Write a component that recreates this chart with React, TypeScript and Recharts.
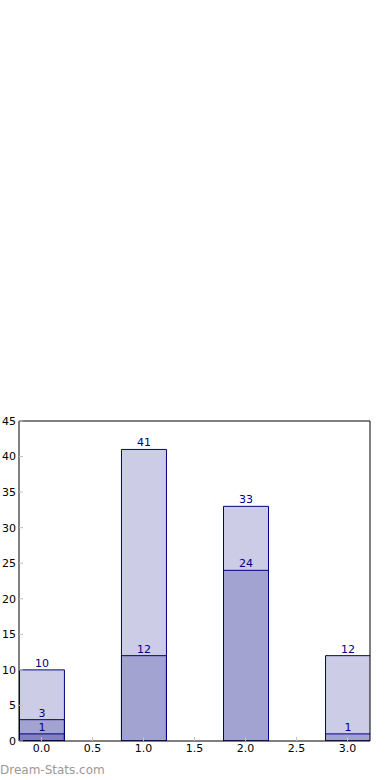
import React from 'react';
import { BarChart, Bar, XAxis, YAxis, LabelList } from 'recharts';

const positions = [0, 1, 2, 3];
const totals = [10, 41, 33, 12];
const middles = [3, 12, 24, 1];
const smalls = [1, null, null, null];
const xTicks = [0, 0.5, 1, 1.5, 2, 2.5, 3];
const yTicks = [0, 5, 10, 15, 20, 25, 30, 35, 40, 45];

const data = positions.map((x, i) => ({ x, a: totals[i], b: middles[i], c: smalls[i] }));

const fmtX = (v: number) => v.toFixed(1);
const tickStyle = { fontSize: 11, fill: '#000', fontFamily: 'DejaVu Sans' };
const labelStyle = { fontSize: 11, fill: 'navy', fontFamily: 'DejaVu Sans' };

export default function App() {
  return (
    <div style={{ position: 'absolute', left: 0, top: 0, width: 390, height: 780, background: '#fff' }}>
      <BarChart
        width={390}
        height={780}
        data={data}
        margin={{ top: 420, right: 19, bottom: 0, left: 0 }}
        barSize={45}
        barGap={-45}
      >
        <XAxis
          dataKey="x"
          type="number"
          domain={[-0.22, 3.22]}
          ticks={xTicks}
          tickFormatter={fmtX}
          allowDataOverflow
          height={39}
          tickSize={-4}
          tickMargin={7}
          tick={tickStyle}
          axisLine={{ stroke: '#000' }}
          tickLine={{ stroke: '#c0c0c0' }}
        />
        <XAxis
          xAxisId="top"
          orientation="top"
          dataKey="x"
          type="number"
          domain={[-0.22, 3.22]}
          ticks={xTicks}
          allowDataOverflow
          height={1}
          tickSize={-4}
          tick={false}
          axisLine={{ stroke: '#000' }}
          tickLine={{ stroke: '#c0c0c0' }}
        />
        <YAxis
          type="number"
          domain={[0, 45]}
          ticks={yTicks}
          allowDataOverflow
          width={19}
          tickSize={-4}
          tickMargin={7}
          tick={tickStyle}
          axisLine={{ stroke: '#000' }}
          tickLine={{ stroke: '#c0c0c0' }}
        />
        <YAxis
          yAxisId="right"
          orientation="right"
          type="number"
          domain={[0, 45]}
          ticks={yTicks}
          allowDataOverflow
          width={1}
          tickSize={-4}
          tick={false}
          axisLine={{ stroke: '#000' }}
          tickLine={{ stroke: '#c0c0c0' }}
        />
        <Bar dataKey="a" fill="navy" fillOpacity={0.2} stroke="navy" strokeWidth={1} isAnimationActive={false}>
          <LabelList dataKey="a" position="top" offset={3} style={labelStyle} />
        </Bar>
        <Bar dataKey="b" fill="navy" fillOpacity={0.2} stroke="navy" strokeWidth={1} isAnimationActive={false}>
          <LabelList dataKey="b" position="top" offset={3} style={labelStyle} />
        </Bar>
        <Bar dataKey="c" fill="navy" fillOpacity={0.2} stroke="navy" strokeWidth={1} isAnimationActive={false}>
          <LabelList dataKey="c" position="top" offset={3} style={labelStyle} />
        </Bar>
      </BarChart>
      <div
        style={{
          position: 'absolute',
          left: 0,
          top: 763,
          fontFamily: 'DejaVu Sans',
          fontSize: 12,
          color: '#999',
          lineHeight: '14px',
          whiteSpace: 'nowrap',
        }}
      >
        Dream-Stats.com
      </div>
    </div>
  );
}
